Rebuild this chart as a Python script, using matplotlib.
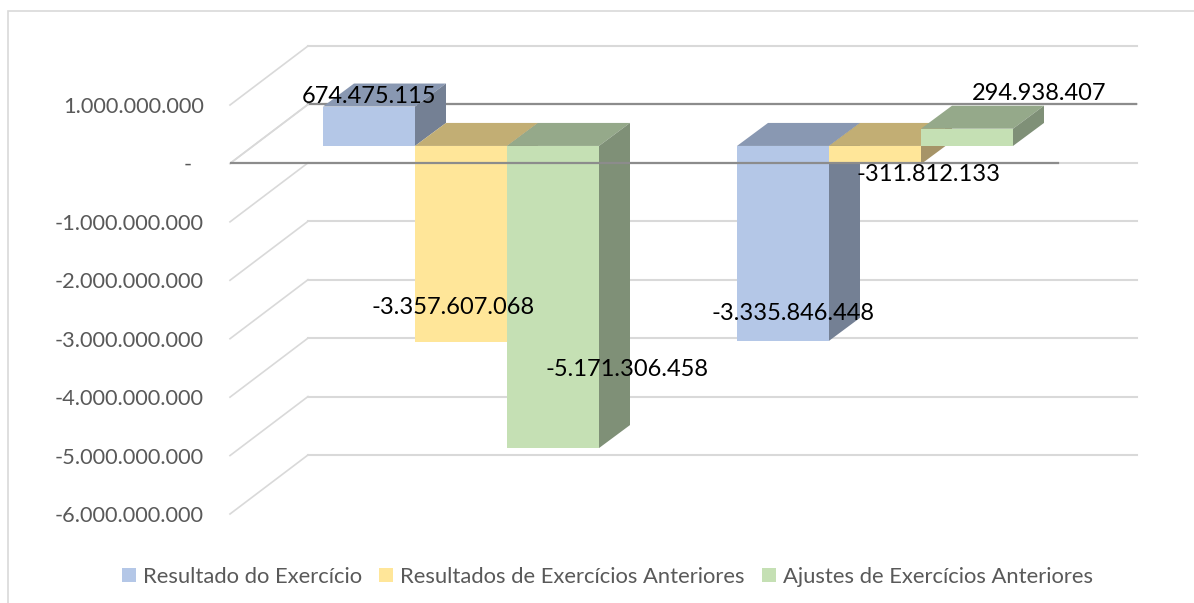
#!/usr/bin/env python3
"""Barras 3D (estilo Excel) - resultado e ajustes de exercícios."""
import matplotlib
matplotlib.use('Agg')
import matplotlib.pyplot as plt
from matplotlib.patches import Patch, Polygon, Rectangle

plt.rcParams['font.family'] = ['Lato', 'DejaVu Sans']

SERIES = ['Resultado do Exercício', 'Resultados de Exercícios Anteriores', 'Ajustes de Exercícios Anteriores']
GRUPO_1 = [674475115, -3357607068, -5171306458]
GRUPO_2 = [-3335846448, -311812133, 294938407]
TICKS = [1000000000, 0, -1000000000, -2000000000, -3000000000, -4000000000, -5000000000, -6000000000]

FRONT = ['#B4C7E7', '#FFE699', '#C5E0B4']
TOP = ['#8998B2', '#C2AE74', '#95A98A']
SIDE = ['#748094', '#A69468', '#7F9077']
GRID = '#D9D9D9'
ZERO = '#8C8C8C'
TXT = '#595959'

W, H = 1194, 603
L_PX, R_PX, T_PX, B_PX = 230, 1137, 46, 514
PX_X = 92.0            # largura de uma barra em px = 1 unidade x
PX_Y = 58.4 / 1e9      # px por unidade de valor

# profundidade do "piso" e da barra, em unidades dos eixos
WALL_DX, WALL_DY = 78 / PX_X, 59 / PX_Y
BAR_DX, BAR_DY = 31 / PX_X, 23 / PX_Y
BAR_BASE = 17.5 / PX_Y   # zero da barra fica acima do zero da frente
X_MIN = (L_PX - 323) / PX_X
X_MAX = (R_PX - 323) / PX_X
GRUPO_2_X = (737 - 323) / PX_X

# deslocamento (px) do centro do rótulo em relação à frente da barra
LABEL_OFF = [(0, 10), (-8, 35), (74, 79), (10, 27), (54, -10), (72, 35)]


def fmt(v):
    if v == 0:
        return '-  '
    return f'{v:,.0f}'.replace(',', '.')


fig = plt.figure(figsize=(W / 100, H / 100), dpi=100)
ax = fig.add_axes([L_PX / W, 1 - B_PX / H, (R_PX - L_PX) / W, (B_PX - T_PX) / H])
ax.set_xlim(X_MIN, X_MAX)
ax.set_ylim(TICKS[-1], TICKS[0] + WALL_DY)
for s in ax.spines.values():
    s.set_visible(False)
ax.set_xticks([])
ax.set_yticks(TICKS)
ax.set_yticklabels([fmt(v) for v in TICKS], fontsize=15.7, color=TXT)
ax.tick_params(axis='y', length=0, pad=19)

# moldura (só aparecem o topo e a esquerda)
fig.add_artist(Rectangle((7.5 / W, -0.1), 1.1, 1 - 10.5 / H + 0.1, transform=fig.transFigure,
                         fill=False, edgecolor=GRID, linewidth=1.2))

# grade: parede do fundo e linhas laterais
for v in TICKS:
    ax.plot([X_MIN, X_MIN + WALL_DX], [v, v + WALL_DY], color=GRID, lw=1.2, zorder=1, clip_on=False)
    ax.plot([X_MIN + WALL_DX, X_MAX], [v + WALL_DY, v + WALL_DY], color=GRID, lw=1.5, zorder=1, clip_on=False)
ax.plot([X_MIN + WALL_DX, X_MAX], [WALL_DY, WALL_DY], color=ZERO, lw=1.6, zorder=2)

# barras, da esquerda para a direita
valores = GRUPO_1 + GRUPO_2
xs = [0, 1, 2, GRUPO_2_X, GRUPO_2_X + 1, GRUPO_2_X + 2]
z = 3
for i, (x, v) in enumerate(zip(xs, valores)):
    c = i % 3
    alto = max(v, 0) + BAR_BASE
    baixo = min(v, 0) + BAR_BASE
    ax.add_patch(Polygon([(x, alto), (x + 1, alto), (x + 1 + BAR_DX, alto + BAR_DY), (x + BAR_DX, alto + BAR_DY)],
                         facecolor=TOP[c], edgecolor='none', zorder=z))
    ax.add_patch(Polygon([(x + 1, alto), (x + 1 + BAR_DX, alto + BAR_DY), (x + 1 + BAR_DX, baixo + BAR_DY), (x + 1, baixo)],
                         facecolor=SIDE[c], edgecolor='none', zorder=z))
    ax.bar(x, v, width=1, bottom=BAR_BASE, align='edge', color=FRONT[c], zorder=z + 1)
    z += 2

# eixo zero na frente passa por cima das barras
ax.plot([X_MIN, X_MIN + WALL_DX], [0, WALL_DY], color=GRID, lw=1.2, zorder=z, clip_on=False)
ax.plot([X_MIN, (1058 - 323) / PX_X], [0, 0], color=ZERO, lw=1.6, zorder=z)

# rótulos de dados
for x, v, off in zip(xs, valores, LABEL_OFF):
    ax.annotate(fmt(v), (x + 0.5, v + BAR_BASE), xytext=(off[0] * 0.72, off[1] * 0.72), textcoords='offset points',
                ha='center', va='center', fontsize=17, color='black', zorder=z + 2, annotation_clip=False)

handles = [Patch(facecolor=FRONT[i], label=SERIES[i]) for i in range(3)]
leg = fig.legend(handles=handles, loc='center', bbox_to_anchor=(607.5 / W, 1 - 577 / H), ncol=3, frameon=False,
                 fontsize=15.8, handlelength=0.63, handleheight=0.63, handletextpad=0.32, columnspacing=0.78,
                 labelcolor=TXT, borderpad=0)

fig.savefig('out.png', dpi=100)
